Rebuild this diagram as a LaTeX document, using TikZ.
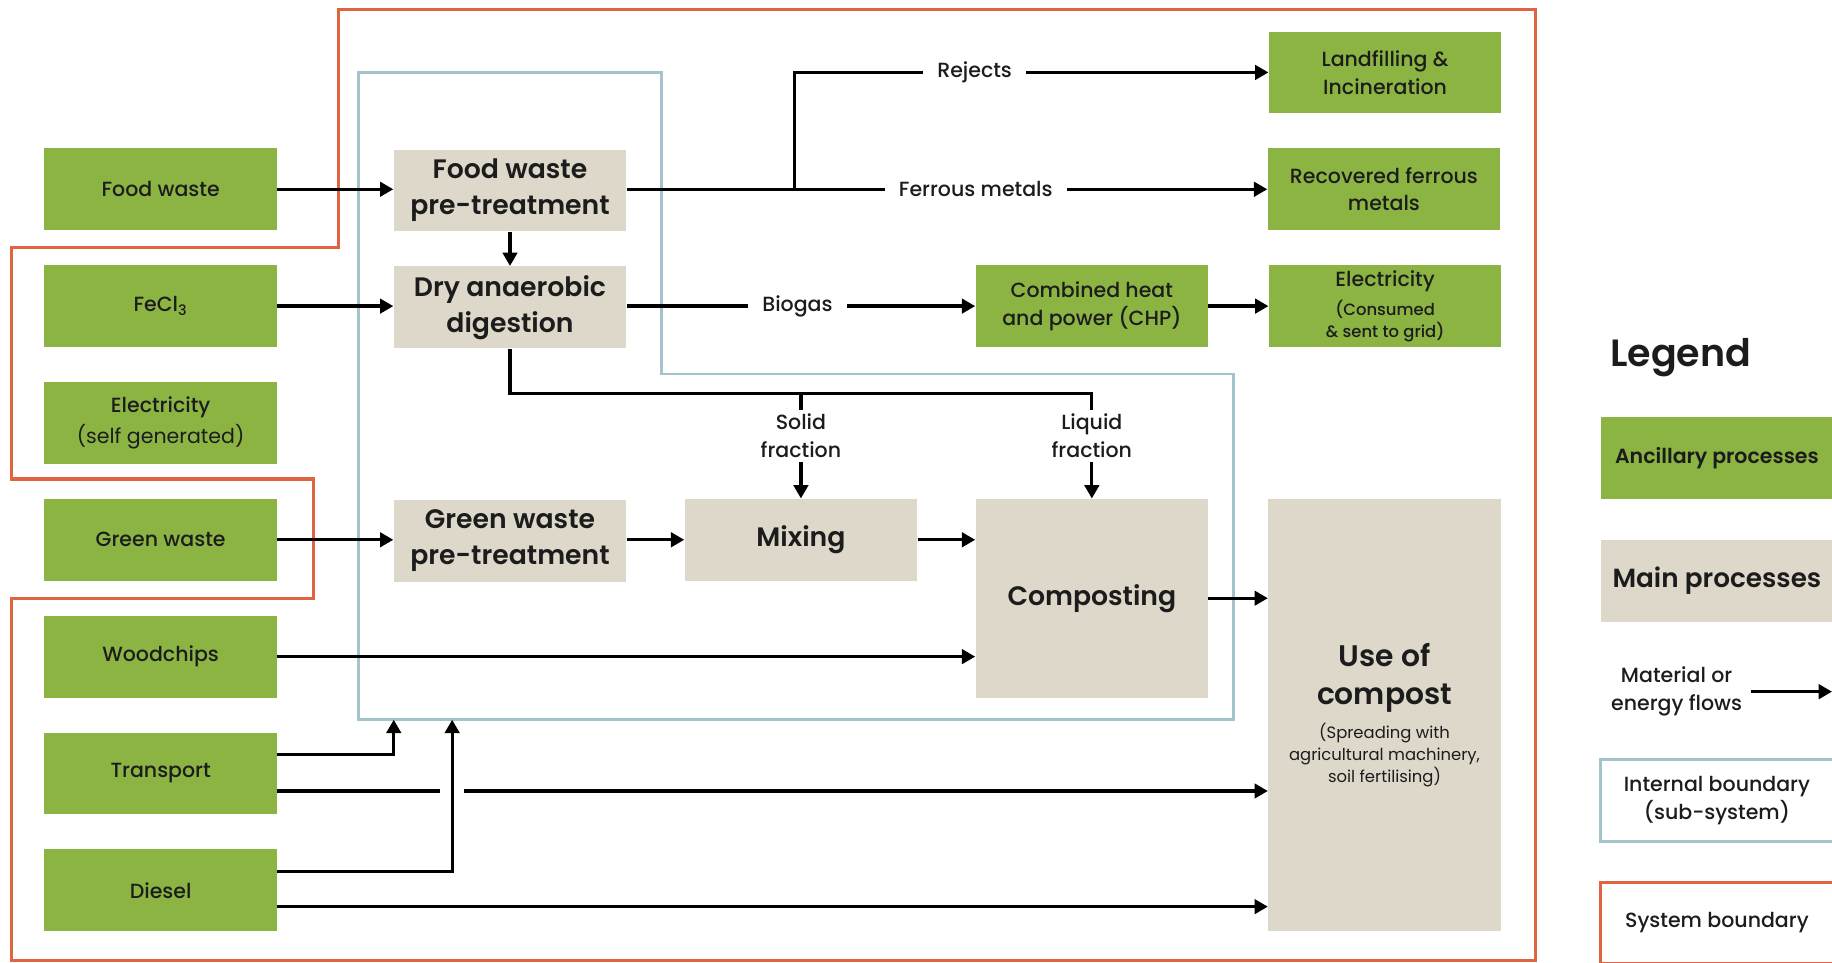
\documentclass[tikz,border=0pt]{standalone}
\usepackage{fontspec}
\setmainfont{Poppins}[BoldFont={Poppins SemiBold}]
\newfontfamily\medfont{Poppins Medium}
\usetikzlibrary{arrows.meta,calc,positioning}

\definecolor{ancgreen}{HTML}{8CB443}
\definecolor{mainbeige}{HTML}{DDD8CA}
\definecolor{sysred}{HTML}{E0643F}
\definecolor{subblue}{HTML}{A4C4CD}
\definecolor{inkdark}{HTML}{1C1C1C}

\begin{document}
\begin{tikzpicture}[x=0.02cm,y=-0.02cm,
    ancillary/.style={rectangle,fill=ancgreen,text=inkdark,minimum width=3.98cm,minimum height=1.4cm,inner sep=2pt,align=center,font=\medfont\fontsize{10}{13.5}\selectfont},
    mainproc/.style={rectangle,fill=mainbeige,text=inkdark,minimum width=3.98cm,minimum height=1.4cm,inner sep=2pt,align=center,font=\bfseries\fontsize{13}{17.5}\selectfont},
    legbox/.style={rectangle,line width=1.3pt,text=inkdark,minimum width=3.98cm,minimum height=1.4cm,inner sep=2pt,align=center,font=\medfont\fontsize{10}{13.5}\selectfont},
    flow/.style={line width=1.6pt,-{Triangle[length=6.5pt,width=7pt]}},
    hop/.style={preaction={draw=white,line width=0.4cm,-,shorten >=0.3cm}},
    flowlabel/.style={fill=white,text=inkdark,inner xsep=7pt,inner ysep=2pt,align=center,font=\medfont\fontsize{10}{13.5}\selectfont},
    sysline/.style={draw=sysred,line width=1.5pt},
    subline/.style={draw=subblue,line width=1.3pt}]
    \clip (0,0) rectangle (1568,824);

    \draw[sysline] (290,8) -- (1314,8) -- (1314,822) -- (10,822) -- (10,512) -- (268,512) -- (268,410) -- (10,410) -- (10,212) -- (290,212) -- cycle;
    \draw[subline] (307,62) -- (566,62) -- (566,320) -- (1056,320) -- (1056,616) -- (307,616) -- cycle;

    \node[ancillary] (foodwaste) at (137.5,162) {Food waste};
    \node[ancillary] (fecl) at (137.5,262) {FeCl\textsubscript{3}};
    \node[ancillary,font=\medfont\fontsize{10}{15.5}\selectfont] (elecself) at (137.5,362) {Electricity\\\normalfont\fontsize{10}{15.5}\selectfont(self generated)};
    \node[ancillary] (greenwaste) at (137.5,462) {Green waste};
    \node[ancillary] (woodchips) at (137.5,562) {Woodchips};
    \node[ancillary] (transport) at (137.5,662) {Transport};
    \node[ancillary] (diesel) at (137.5,762) {Diesel};

    \node[mainproc] (fwpt) at (436.5,163) {Food waste\\pre-treatment};
    \node[mainproc] (dad) at (436.5,263) {Dry anaerobic\\digestion};
    \node[mainproc] (gwpt) at (436.5,463) {Green waste\\pre-treatment};
    \node[mainproc] (mixing) at (685.5,462) {Mixing};
    \node[mainproc,minimum height=3.4cm] (composting) at (934.5,512) {Composting};
    \node[mainproc,font=\bfseries\fontsize{8}{10.8}\selectfont,minimum height=7.4cm] (usecompost) at (1185,612) {\fontsize{14.5}{17}\selectfont Use of\\[8pt]\fontsize{14.5}{17}\selectfont compost\\[4pt]\mdseries(Spreading with\\\mdseries agricultural machinery,\\\mdseries soil fertilising)};

    \node[ancillary] (landfill) at (1185.5,62) {Landfilling \&\\Incineration};
    \node[ancillary] (ferrous) at (1184.5,162) {Recovered ferrous\\metals};
    \node[ancillary] (chp) at (934.5,262) {Combined heat\\and power (CHP)};
    \node[ancillary,font=\medfont\fontsize{8}{10.8}\selectfont] (elecgrid) at (1185.5,262) {\fontsize{10}{13.5}\selectfont Electricity\\[3.5pt](Consumed\\\& sent to grid)};

    \coordinate (rejsplit) at (680,162);
    \coordinate (solidsplit) at (685.5,337);
    \coordinate (liquidsplit) at (934.5,337);
    \coordinate (subin1) at (337,616);
    \coordinate (subin2) at (387,616);

    \draw[flow] (foodwaste) -- (foodwaste -| fwpt.west);
    \draw[flow] (fecl) -- (fecl -| dad.west);
    \draw[flow] (greenwaste) -- (greenwaste -| gwpt.west);
    \draw[flow] (fwpt) -- (dad);
    \draw[flow] (foodwaste -| fwpt.east) -- (ferrous) node[flowlabel,pos=0.545] {Ferrous metals};
    \draw[flow] (rejsplit) |- (landfill) node[flowlabel,pos=0.69] {Rejects};
    \draw[flow] (fecl -| dad.east) -- (chp) node[flowlabel,pos=0.49] {Biogas};
    \draw[flow] (chp) -- (elecgrid);
    \draw[flow] (dad) |- (liquidsplit) -- (composting) node[flowlabel,pos=0.4] {Liquid\\fraction};
    \draw[flow] (solidsplit) -- (mixing) node[flowlabel,pos=0.4] {Solid\\fraction};
    \draw[flow] (greenwaste -| gwpt.east) -- (mixing);
    \draw[flow] (mixing) -- (mixing -| composting.west);
    \draw[flow] (composting.east) -- (composting.east -| usecompost.west);
    \draw[flow] (woodchips) -- (woodchips -| composting.west);
    \draw[flow] ($(transport.east)+(0,-16)$) -| (subin1);
    \draw[flow] ($(transport.east)+(0,15)$) coordinate (tlow) -- (tlow -| usecompost.west);
    \draw[flow,hop] ($(diesel.east)+(0,-16)$) -| (subin2);
    \draw[flow] ($(diesel.east)+(0,14)$) coordinate (dlow) -- (dlow -| usecompost.west);

    \node[font=\bfseries\fontsize{18.5}{20}\selectfont,text=inkdark,anchor=west] (legtitle) at (1372,306) {Legend};
    \node[ancillary,font=\bfseries\fontsize{10}{13.5}\selectfont] (legancillary) at (1469.5,392) {Ancillary processes};
    \node[mainproc,font=\bfseries\fontsize{12.8}{15}\selectfont] (legmain) at (1469.5,497) {Main processes};
    \node[flowlabel,fill=none,inner xsep=4pt] (legflow) at (1435,592) {Material or\\energy flows};
    \coordinate (legflowend) at (1568,592);
    \draw[flow] (legflow.east) -- (legflow.east -| legflowend);
    \node[legbox,draw=subblue] (legsub) at (1469.5,685) {Internal boundary\\(sub-system)};
    \node[legbox,draw=sysred,line width=1.5pt] (legsys) at (1469.5,790) {System boundary};
\end{tikzpicture}
\end{document}
